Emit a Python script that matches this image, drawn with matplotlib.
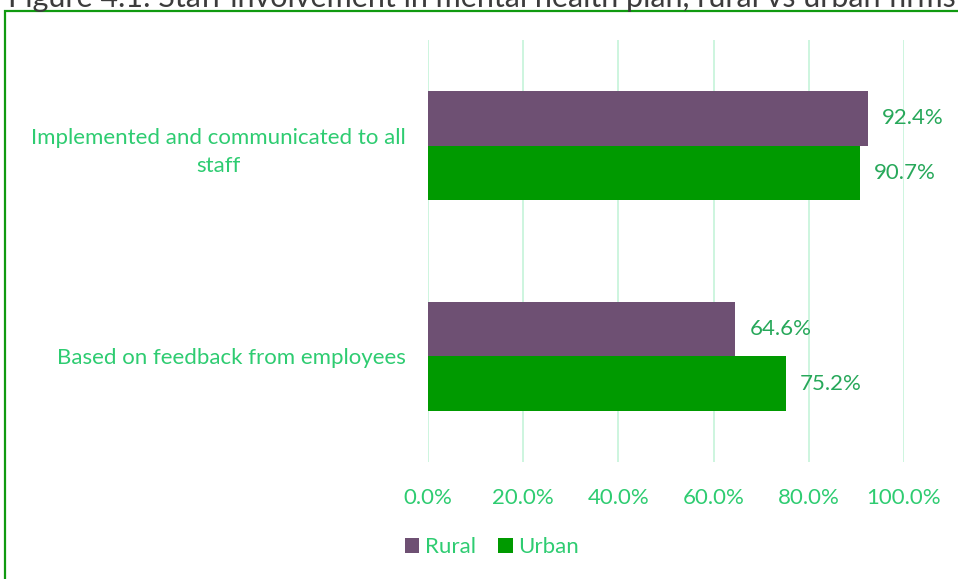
import matplotlib.pyplot as plt
from matplotlib.patches import Rectangle

plt.rcParams['font.family'] = ['Lato', 'DejaVu Sans']

categories = ["Based on feedback from employees",
              "Implemented and communicated to all\nstaff"]
rural = [64.6, 92.4]
urban = [75.2, 90.7]
ticks = [0, 20, 40, 60, 80, 100]

RURAL_COLOR = "#6e5073"
URBAN_COLOR = "#009a00"
TEXT_GREEN = "#2ecc71"
LABEL_GREEN = "#27a85a"
GRID_COLOR = "#c9f5dc"
FS = 16

fig = plt.figure(figsize=(9.58, 5.79), dpi=100)

# outer frame around the chart area
fig.patches.append(Rectangle((5 / 958, -0.05), 1.2, 1 - 11 / 579 + 0.05,
                             transform=fig.transFigure, fill=False,
                             edgecolor="#109a10", linewidth=1.6, zorder=0))

fig.text(8 / 958, 1 - 7 / 579, "Figure 4.1: Staff involvement in mental health plan, rural vs urban firms",
         fontsize=22, color="#3c3c3c", va="baseline", ha="left")

ax = fig.add_axes([428 / 958, 1 - 462 / 579, (904 - 428) / 958, 422 / 579])

h = 0.26
y = range(len(categories))
rb = ax.barh([i + h / 2 for i in y], rural, height=h, color=RURAL_COLOR, label="Rural", zorder=3)
ub = ax.barh([i - h / 2 for i in y], urban, height=h, color=URBAN_COLOR, label="Urban", zorder=3)

for bars, vals in ((rb, rural), (ub, urban)):
    for bar, v in zip(bars, vals):
        ax.annotate(f"{v:.1f}%", (v, bar.get_y() + bar.get_height() / 2),
                    xytext=(10, 0), textcoords="offset points",
                    va="center", ha="left", fontsize=FS, color=LABEL_GREEN)

ax.set_xlim(0, 100)
ax.set_ylim(-0.5, 1.5)
ax.set_xticks(ticks)
ax.set_xticklabels([f"{t:.1f}%" for t in ticks])
ax.set_yticks(list(y))
ax.set_yticklabels(categories, multialignment="center", linespacing=1.5)
ax.tick_params(axis="both", length=0, labelsize=FS, labelcolor=TEXT_GREEN)
ax.tick_params(axis="x", pad=19)
ax.tick_params(axis="y", pad=16)
ax.grid(axis="x", color=GRID_COLOR, linewidth=1.3, zorder=0)
ax.set_axisbelow(True)
for s in ax.spines.values():
    s.set_visible(False)

leg = fig.legend(handles=[rb, ub], loc="center", bbox_to_anchor=(492 / 958, 1 - 547 / 579),
                 ncol=2, frameon=False, fontsize=FS, handlelength=0.65, handleheight=0.65,
                 handletextpad=0.25, columnspacing=1.0)
for t in leg.get_texts():
    t.set_color(TEXT_GREEN)

fig.savefig("out.png", dpi=100)
